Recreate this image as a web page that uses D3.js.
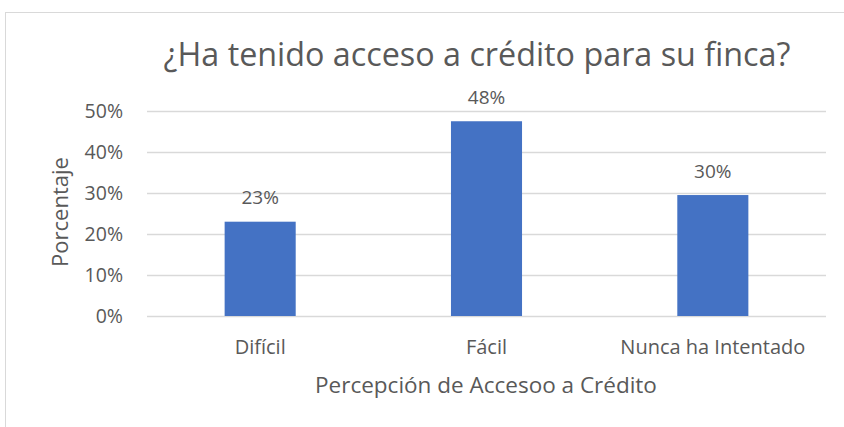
<!DOCTYPE html>
<html>
<head>
<meta charset="utf-8">
<script src="https://cdn.jsdelivr.net/npm/d3@7"></script>
<style>
  html, body { margin: 0; padding: 0; background: #fff; }
  svg { display: block; }
  text { font-family: "Open Sans", "Noto Sans", sans-serif; fill: #595959; }
</style>
</head>
<body>
<svg id="chart" width="844" height="427"></svg>
<script>
const title = "¿Ha tenido acceso a crédito para su finca?";
const categories = ["Difícil", "Fácil", "Nunca ha Intentado"];
const values = [0.23, 0.475, 0.295];
const valueLabels = ["23%", "48%", "30%"];
const yTicks = [0, 0.1, 0.2, 0.3, 0.4, 0.5];
const xAxisTitle = "Percepción de Accesoo a Crédito";
const yAxisTitle = "Porcentaje";

const svg = d3.select("#chart");
const W = 844, H = 427;

// chart area border
svg.append("rect")
  .attr("x", 5.5).attr("y", 12.5)
  .attr("width", W + 20).attr("height", H + 20)
  .attr("fill", "#fff").attr("stroke", "#d9d9d9").attr("stroke-width", 1);

const plot = { left: 147, right: 826, top: 111, bottom: 316 };

const x = d3.scaleBand().domain(categories).range([plot.left, plot.right]).padding(0);
const y = d3.scaleLinear().domain([0, 0.5]).range([plot.bottom, plot.top]);
const barW = x.bandwidth() * 0.314;

// gridlines
svg.append("g")
  .attr("transform", `translate(${plot.left},0)`)
  .call(d3.axisLeft(y).tickValues(yTicks).tickSize(-(plot.right - plot.left)).tickFormat(""))
  .call(g => g.select(".domain").remove())
  .call(g => g.selectAll(".tick line").attr("stroke", "#d9d9d9").attr("stroke-width", 1.3));

// y tick labels
svg.append("g")
  .attr("transform", `translate(${plot.left - 24},0)`)
  .call(d3.axisLeft(y).tickValues(yTicks).tickSize(0).tickPadding(0).tickFormat(d3.format(".0%")))
  .call(g => g.select(".domain").remove())
  .call(g => g.selectAll(".tick text")
    .attr("font-size", 19.5).attr("fill", "#595959")
    .attr("font-family", "'Open Sans', sans-serif").attr("dy", "0.35em"));

// bars
svg.append("g").selectAll("rect")
  .data(categories)
  .join("rect")
  .attr("x", (d) => x(d) + x.bandwidth() / 2 - barW / 2)
  .attr("y", (d, i) => y(values[i]))
  .attr("width", barW)
  .attr("height", (d, i) => y(0) - y(values[i]))
  .attr("fill", "#4472c4");

// value labels
svg.append("g").selectAll("text")
  .data(categories)
  .join("text")
  .attr("x", d => x(d) + x.bandwidth() / 2)
  .attr("y", (d, i) => y(values[i]) - 24)
  .attr("dy", "0.35em")
  .attr("text-anchor", "middle")
  .attr("font-size", 19)
  .text((d, i) => valueLabels[i]);

// x axis labels
svg.append("g")
  .attr("transform", `translate(0,${plot.bottom})`)
  .call(d3.axisBottom(x).tickSize(0).tickPadding(0))
  .call(g => g.select(".domain").remove())
  .call(g => g.selectAll(".tick text")
    .attr("font-size", 20).attr("fill", "#595959")
    .attr("font-family", "'Open Sans', sans-serif")
    .attr("y", 31).attr("dy", "0.35em"));

// title
svg.append("text")
  .attr("x", 477).attr("y", 55)
  .attr("dy", "0.35em")
  .attr("text-anchor", "middle")
  .attr("font-size", 32.3)
  .text(title);

// x axis title
svg.append("text")
  .attr("x", 486).attr("y", 385)
  .attr("dy", "0.35em")
  .attr("text-anchor", "middle")
  .attr("font-size", 22.5)
  .text(xAxisTitle);

// y axis title
svg.append("text")
  .attr("transform", "translate(60,212) rotate(-90)")
  .attr("dy", "0.35em")
  .attr("text-anchor", "middle")
  .attr("font-size", 22)
  .text(yAxisTitle);
</script>
</body>
</html>
